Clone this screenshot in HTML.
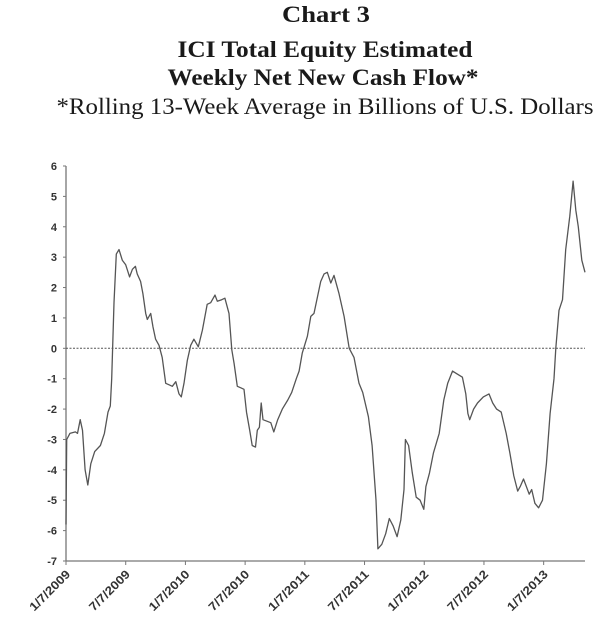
<!DOCTYPE html>
<html><head><meta charset="utf-8"><style>
html,body{margin:0;padding:0;background:#fff;width:600px;height:635px;overflow:hidden}
svg{display:block}
</style></head><body>
<svg id="chart" width="600" height="635" xmlns="http://www.w3.org/2000/svg">
<g font-family="Liberation Serif, serif" font-weight="bold" fill="#1a1a1a" text-anchor="middle">
<text x="326" y="22" font-size="23" textLength="88" lengthAdjust="spacingAndGlyphs">Chart 3</text>
<text x="325" y="57" font-size="23" textLength="295" lengthAdjust="spacingAndGlyphs">ICI Total Equity Estimated</text>
<text x="323" y="85" font-size="23" textLength="311" lengthAdjust="spacingAndGlyphs">Weekly Net New Cash Flow*</text>
</g>
<text x="325" y="114" font-family="Liberation Serif, serif" font-size="23" fill="#1a1a1a" text-anchor="middle" textLength="537" lengthAdjust="spacingAndGlyphs">*Rolling 13-Week Average in Billions of U.S. Dollars</text>
<g id="axes"></g>
<g id="plot"></g>
</svg>
<script>
const weeks = [0,0.3,1.7,4.1,5,6.2,7.2,8.3,9.5,10.8,12.5,15,16.7,18.3,19.3,19.9,20.9,21.9,23.1,24.5,26,27.7,28.9,30.2,31,32.5,33.5,34.7,35.4,36.9,37.9,39,40.5,41.9,43.4,44.9,46.3,47.8,49.2,50.2,51.4,52.8,54.3,55.7,57.6,59.4,61.5,63,64.9,65.9,67.8,69.2,71,72.2,73.2,74.6,76.1,77.5,78.6,80,81.1,82.5,83.3,84.2,85,85.8,87.5,89.2,90.5,92.2,94.2,96.6,98.3,100.3,101.5,102.9,105.1,106.6,108,109.5,110.9,112.4,113.8,115.3,116.7,118.9,121.1,123.3,125.4,127.6,129.2,131.7,133.3,135,135.8,137.5,139.2,140.8,142.5,144.2,145.8,147.2,147.8,149.2,150.8,152.5,154.2,155.8,156.7,158.3,160,162.5,164.5,166.2,168.3,170.4,172.6,174.1,175,175.8,177.5,179.2,181.7,184.2,185.8,187.5,189.5,191.7,193.3,195,196.7,197.8,199.2,200.5,201.7,202.8,204.2,205.8,207.5,209.2,210.8,212.5,213.3,214.7,216.2,217.6,219.4,220.8,222,223.1,224.6,226];
const values = [-5.8,-3.0,-2.8,-2.75,-2.8,-2.35,-2.7,-4.0,-4.5,-3.8,-3.4,-3.2,-2.8,-2.1,-1.9,-1.0,1.5,3.1,3.25,2.9,2.75,2.35,2.6,2.7,2.45,2.2,1.8,1.15,0.95,1.15,0.7,0.3,0.1,-0.3,-1.15,-1.2,-1.25,-1.1,-1.5,-1.6,-1.15,-0.4,0.1,0.3,0.05,0.6,1.45,1.5,1.75,1.55,1.6,1.65,1.15,-0.05,-0.5,-1.25,-1.3,-1.35,-2.1,-2.7,-3.2,-3.25,-2.7,-2.6,-1.8,-2.35,-2.4,-2.45,-2.75,-2.35,-2.0,-1.7,-1.45,-1.0,-0.75,-0.15,0.4,1.05,1.15,1.7,2.2,2.45,2.5,2.15,2.4,1.8,1.05,0,-0.3,-1.15,-1.45,-2.25,-3.2,-5.0,-6.6,-6.45,-6.1,-5.6,-5.85,-6.2,-5.65,-4.65,-3.0,-3.2,-4.1,-4.9,-5.0,-5.3,-4.55,-4.1,-3.45,-2.8,-1.7,-1.15,-0.75,-0.85,-0.95,-1.5,-2.15,-2.35,-2.0,-1.8,-1.6,-1.5,-1.8,-2.0,-2.1,-2.8,-3.45,-4.2,-4.7,-4.55,-4.3,-4.55,-4.8,-4.65,-5.1,-5.25,-5.0,-3.8,-2.15,-1.0,0,1.25,1.6,3.25,4.35,5.5,4.55,4.0,2.9,2.5];
const yTicks = [6,5,4,3,2,1,0,-1,-2,-3,-4,-5,-6,-7];
const xTickWeeks = [0,26,52,78,104,130,156,182,208];
const xTickLabels = ["1/7/2009","7/7/2009","1/7/2010","7/7/2010","1/7/2011","7/7/2011","1/7/2012","7/7/2012","1/7/2013"];

const NS="http://www.w3.org/2000/svg";
const X0=66, X1=585, W0=0, W1=226;
const Ytop=166, Ybot=561, VMAX=6, VMIN=-7;
function xs(w){return X0+(w-W0)/(W1-W0)*(X1-X0);}
function ys(v){return Ytop+(VMAX-v)/(VMAX-VMIN)*(Ybot-Ytop);}
function mk(tag,attrs,parent){const e=document.createElementNS(NS,tag);for(const k in attrs)e.setAttribute(k,attrs[k]);parent.appendChild(e);return e;}
const axes=document.getElementById('axes'), plot=document.getElementById('plot');

let e=mk('line',{x1:X0,y1:Ytop,x2:X0,y2:Ybot,stroke:'#777','stroke-width':1.3},axes);


e=mk('line',{x1:X0,y1:Ybot,x2:X1,y2:Ybot,stroke:'#777','stroke-width':1.3},axes);



yTicks.forEach(v=>{
  const y=ys(v);
  const t=mk('line',{x1:X0-3,y1:y,x2:X0,y2:y,stroke:'#777','stroke-width':1},axes);
  
  
  const l=mk('text',{x:X0-9,y:y+4,'font-family':'Liberation Sans, sans-serif','font-size':11,'font-weight':'bold',fill:'#333','text-anchor':'end'},axes);
  l.textContent=String(v);
  
  
});

xTickWeeks.forEach((w,i)=>{
  const x=xs(w);
  const t=mk('line',{x1:x,y1:Ybot,x2:x,y2:Ybot+4,stroke:'#777','stroke-width':1},axes);
  
  
  const l=mk('text',{x:x+5,y:Ybot+14,'font-family':'Liberation Sans, sans-serif','font-size':12,'font-weight':'bold',fill:'#333','text-anchor':'end',textLength:52,lengthAdjust:'spacingAndGlyphs',transform:`rotate(-45 ${x+5} ${Ybot+14})`},axes);
  l.textContent=xTickLabels[i];
  
  
});

e=mk('line',{x1:X0,y1:ys(0),x2:X1,y2:ys(0),stroke:'#555','stroke-width':1,'stroke-dasharray':'2,1.5'},plot);



const d=weeks.map((w,i)=>(i?'L':'M')+xs(w).toFixed(1)+','+ys(values[i]).toFixed(1)).join(' ');
e=mk('path',{d:d,fill:'none',stroke:'#555','stroke-width':1.3,'stroke-linejoin':'round'},plot);


</script>
</body></html>
